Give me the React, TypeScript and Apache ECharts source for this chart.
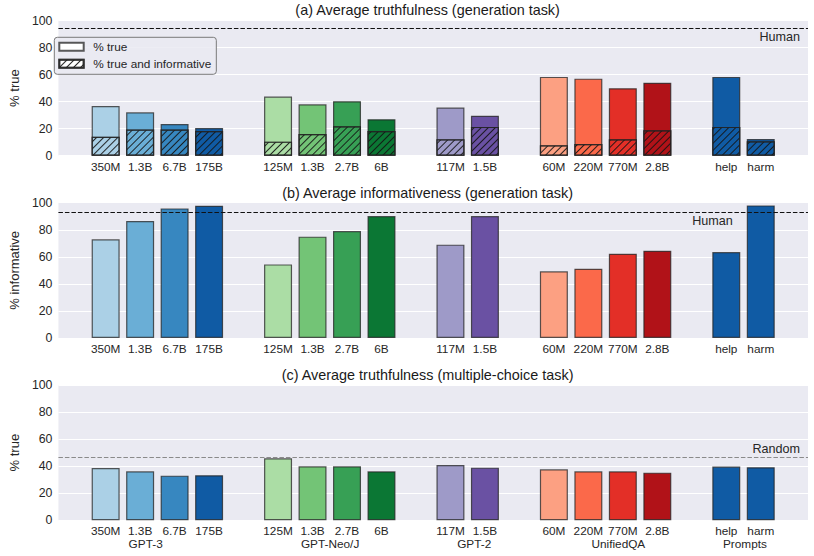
import React, { useEffect, useRef } from "react";
import * as echarts from "echarts";

// ---- data ----
const groupNames = ["GPT-3", "GPT-Neo/J", "GPT-2", "UnifiedQA", "Prompts"];
const modelLabels = [
  ["350M", "1.3B", "6.7B", "175B"],
  ["125M", "1.3B", "2.7B", "6B"],
  ["117M", "1.5B"],
  ["60M", "220M", "770M", "2.8B"],
  ["help", "harm"],
];
const modelColors = [
  ["#abd0e6", "#6aaed6", "#3787c0", "#105ba4"],
  ["#abdda5", "#73c476", "#37a055", "#0b7734"],
  ["#9e9ac8", "#6a51a3"],
  ["#fca082", "#fb694a", "#e32f27", "#b11218"],
  ["#105ba4", "#105ba4"],
];
// (a) generation task, % true and % true and informative
const truePct = [36.8, 32.1, 23.5, 20.5, 43.7, 38.0, 40.3, 27.0, 35.6, 29.6, 58.3, 57.0, 49.9, 54.0, 58.3, 12.4];
const trueInfoPct = [14.0, 19.3, 19.3, 18.3, 10.4, 16.0, 21.8, 18.3, 12.1, 21.3, 7.7, 8.7, 12.1, 18.8, 21.3, 10.6];
// (b) generation task, % informative
const infoPct = [72.9, 86.5, 95.8, 97.8, 54.4, 74.9, 79.0, 90.1, 69.0, 90.1, 49.3, 51.2, 62.3, 64.5, 63.5, 98.0];
// (c) multiple-choice task, % true
const mcTruePct = [38.7, 36.2, 33.0, 33.3, 45.8, 39.9, 39.9, 36.2, 40.9, 38.9, 37.7, 36.2, 36.2, 35.2, 39.7, 39.2];
const humanTrue = 94.3;
const humanInfo = 93.1;
const randomMC = 46.3;
const yTicks = [0, 20, 40, 60, 80, 100];

// ---- layout constants ----
const groupLabelPos = [1.16, 6.51, 10.69, 14.87, 18.54];
const humanInfoLabelPos = [18.19, 86.2];
const FONT = "Liberation Sans, Arial, sans-serif";

// slot positions (one empty slot between groups)
const xPos: number[] = [];
const flatLabels: string[] = [];
const flatColors: string[] = [];
{
  let p = 0;
  modelLabels.forEach((g, gi) => {
    g.forEach((m, mi) => {
      xPos.push(p);
      flatLabels.push(m);
      flatColors.push(modelColors[gi][mi]);
      p += 1;
    });
    p += 1;
  });
}
const labelAt = (v: number) => {
  const i = xPos.findIndex((p) => Math.abs(p - v) < 1e-6);
  return i >= 0 ? flatLabels[i] : "";
};
const groupAt = (v: number) => {
  const i = groupLabelPos.findIndex((p) => Math.abs(p - v) < 1e-6);
  return i >= 0 ? groupNames[i] : "";
};

const EDGE = "rgba(35,35,35,0.75)";
const hatch = {
  symbol: "rect",
  symbolSize: 1,
  color: "rgba(20,20,20,0.9)",
  dashArrayX: [1, 0],
  dashArrayY: [1, 3.5],
  rotation: -Math.PI / 4,
};

const grids = [
  { left: 47.3, right: 6, top: 20.5, height: 135.2 },
  { left: 47.3, right: 6, top: 202.7, height: 135.3 },
  { left: 47.3, right: 6, top: 385, height: 135.3 },
];

function barData(vals: number[]) {
  return vals.map((v, i) => ({
    value: [xPos[i], v],
    itemStyle: { color: flatColors[i] },
  }));
}

export default function App() {
  const ref = useRef<HTMLDivElement>(null);
  useEffect(() => {
    if (!ref.current) return;
    const chart = echarts.init(ref.current, null, { renderer: "svg" });
    const xMin = -1.37;
    const xMax = xPos[xPos.length - 1] + 1.37;
    const xAxes: any[] = grids.map((_, gi) => ({
      type: "value",
      gridIndex: gi,
      min: xMin,
      max: xMax,
      position: "bottom",
      axisLine: { show: false },
      axisTick: { show: false },
      splitLine: { show: false },
      axisLabel: {
        customValues: xPos,
        formatter: (v: number) => labelAt(v),
        color: "#262626",
        fontFamily: FONT,
        fontSize: 11.8,
        lineHeight: 12,
        margin: 5,
      },
    }));
    xAxes.push({
      type: "value",
      gridIndex: 2,
      min: xMin,
      max: xMax,
      position: "bottom",
      axisLine: { show: false },
      axisTick: { show: false },
      splitLine: { show: false },
      axisLabel: {
        customValues: groupLabelPos,
        formatter: (v: number) => groupAt(v),
        color: "#262626",
        fontFamily: FONT,
        fontSize: 11.8,
        lineHeight: 12,
        margin: 17.5,
      },
    });
    const yNames = ["% true", "% informative", "% true"];
    const yAxes = grids.map((_, gi) => ({
      type: "value",
      gridIndex: gi,
      min: yTicks[0],
      max: yTicks[yTicks.length - 1],
      interval: yTicks[1] - yTicks[0],
      name: yNames[gi],
      nameLocation: "middle",
      nameGap: 32,
      nameTextStyle: { color: "#262626", fontFamily: FONT, fontSize: 13 },
      axisLine: { show: false },
      axisTick: { show: false },
      splitLine: { show: true, lineStyle: { color: "#ffffff", width: 1 } },
      axisLabel: { color: "#262626", fontFamily: FONT, fontSize: 12.3, margin: 6 },
    }));

    const baseBar = {
      type: "bar",
      barWidth: 28,
      barGap: "-100%",
      itemStyle: { color: "#ffffff", borderColor: EDGE, borderWidth: 1.2 },
      emphasis: { disabled: true },
    };
    const dashed = [4.5, 2];

    const option: any = {
      animation: false,
      textStyle: { fontFamily: FONT },
      title: [
        { text: "(a) Average truthfulness (generation task)", top: 3 },
        { text: "(b) Average informativeness (generation task)", top: 185.5 },
        { text: "(c) Average truthfulness (multiple-choice task)", top: 368 },
      ].map((t) => ({
        ...t,
        left: 427.6,
        textAlign: "center",
        padding: 0,
        textStyle: { color: "#1a1a1a", fontWeight: "normal", fontFamily: FONT, fontSize: 14.4 },
      })),
      grid: grids.map((g) => ({
        ...g,
        show: true,
        backgroundColor: "#eaeaf2",
        borderWidth: 0,
        containLabel: false,
      })),
      xAxis: xAxes,
      yAxis: yAxes,
      legend: {
        data: ["% true", "% true and informative"],
        orient: "vertical",
        left: 54.3,
        top: 37.3,
        icon: "rect",
        itemWidth: 24.4,
        itemHeight: 8,
        itemGap: 3,
        padding: [2.5, 5, 3.5, 4],
        backgroundColor: "rgba(234,234,242,0.85)",
        borderColor: "#7a7a7a",
        borderWidth: 1,
        borderRadius: 3,
        selectedMode: false,
        textStyle: {
          color: "#262626",
          fontFamily: FONT,
          fontSize: 11.8,
          lineHeight: 14,
          padding: [0, 0, 0, 4.6],
        },
      },
      series: [
        {
          ...baseBar,
          name: "% true",
          xAxisIndex: 0,
          yAxisIndex: 0,
          data: barData(truePct),
          markLine: {
            silent: true,
            symbol: ["none", "none"],
            lineStyle: { color: "#111", type: dashed, width: 1.2 },
            label: {
              show: true,
              formatter: "Human",
              position: "insideEndBottom",
              distance: [8, 2],
              color: "#262626",
              fontFamily: FONT,
              fontSize: 12.6,
            },
            data: [{ yAxis: humanTrue }],
          },
        },
        {
          ...baseBar,
          name: "% true and informative",
          xAxisIndex: 0,
          yAxisIndex: 0,
          itemStyle: { ...baseBar.itemStyle, decal: hatch },
          data: barData(trueInfoPct).map((d) => ({
            ...d,
            itemStyle: { ...d.itemStyle, decal: hatch },
          })),
        },
        {
          ...baseBar,
          name: "informative",
          xAxisIndex: 1,
          yAxisIndex: 1,
          data: barData(infoPct),
          markLine: {
            silent: true,
            symbol: ["none", "none"],
            lineStyle: { color: "#111", type: dashed, width: 1.2 },
            label: { show: false },
            data: [{ yAxis: humanInfo }],
          },
          markPoint: {
            silent: true,
            symbol: "circle",
            symbolSize: 0,
            label: {
              show: true,
              position: "left",
              distance: 0,
              formatter: "Human",
              color: "#262626",
              fontFamily: FONT,
              fontSize: 12.6,
            },
            data: [{ coord: humanInfoLabelPos }],
          },
        },
        {
          ...baseBar,
          name: "mc true",
          xAxisIndex: 2,
          yAxisIndex: 2,
          data: barData(mcTruePct),
          markLine: {
            silent: true,
            symbol: ["none", "none"],
            lineStyle: { color: "#8a8a8a", type: dashed, width: 1.2 },
            label: {
              show: true,
              formatter: "Random",
              position: "insideEndTop",
              distance: [8, 2],
              color: "#262626",
              fontFamily: FONT,
              fontSize: 12.6,
            },
            data: [{ yAxis: randomMC }],
          },
        },
      ],
    };
    chart.setOption(option);
    return () => chart.dispose();
  }, []);
  return (
    <div
      ref={ref}
      style={{ position: "fixed", left: 0, top: 0, width: 814, height: 556, background: "#ffffff" }}
    />
  );
}
